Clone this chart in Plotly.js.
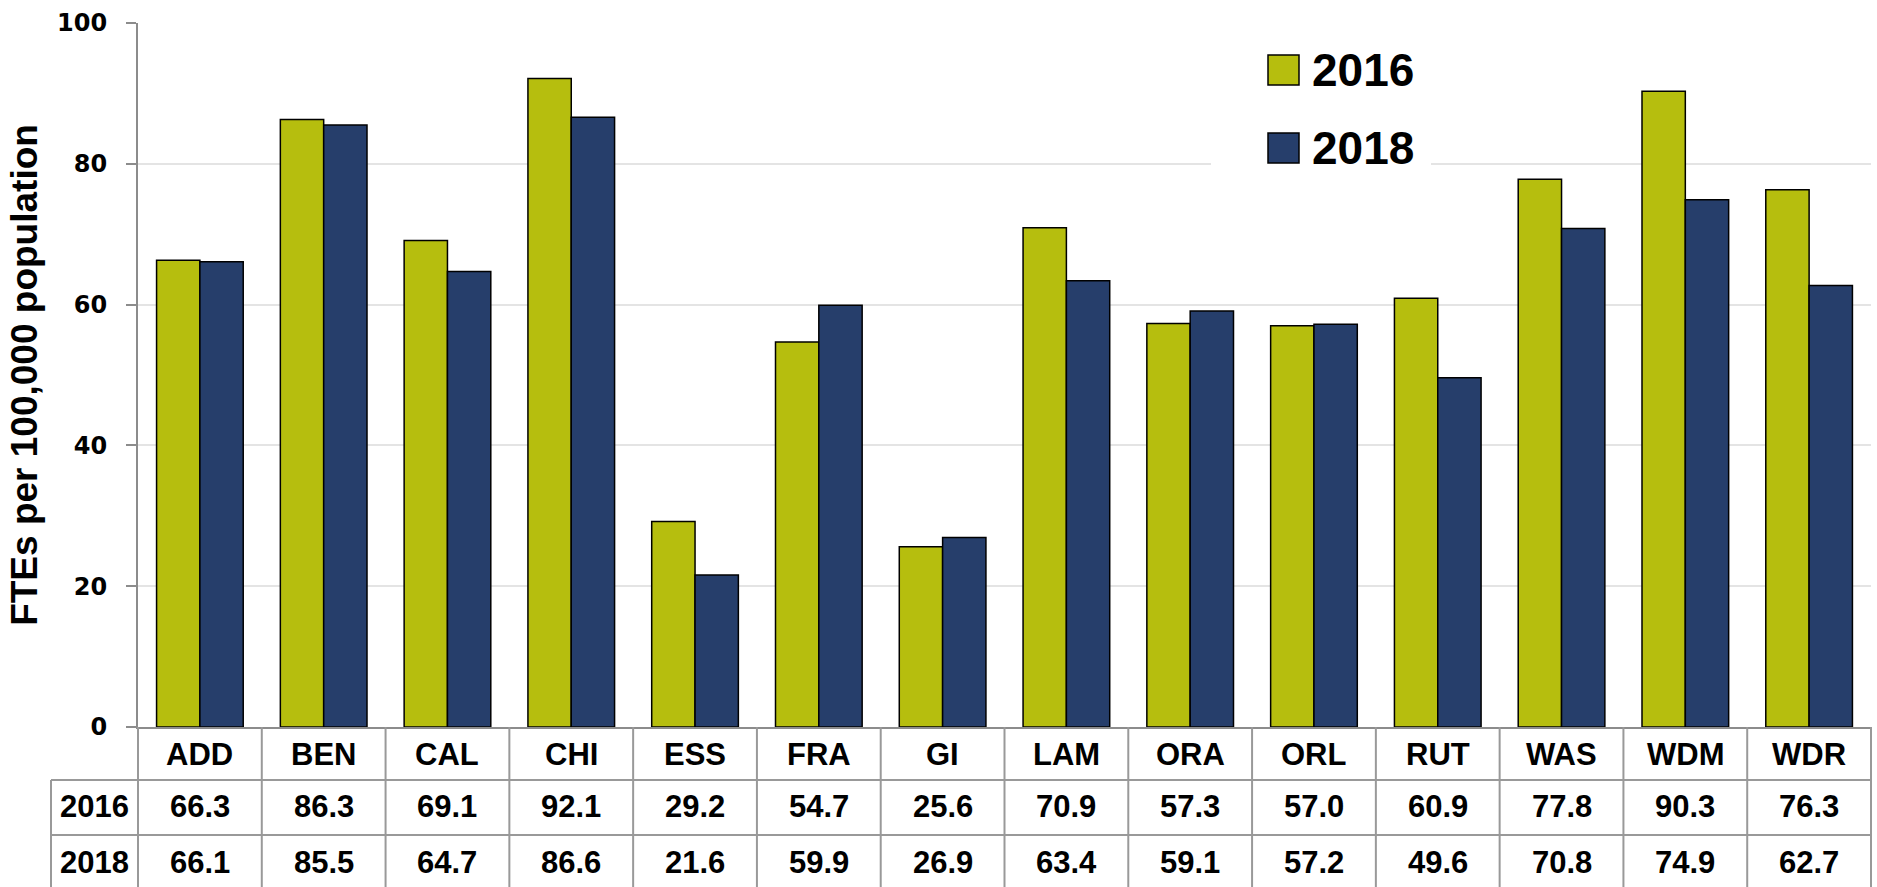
<!DOCTYPE html>
<html>
<head>
<meta charset="utf-8">
<script src="https://cdn.plot.ly/plotly-3.0.1.min.js"></script>
<style>
html,body{margin:0;padding:0;background:#fff;}
#chart{width:1877px;height:887px;}
</style>
</head>
<body>
<div id="chart"></div>
<script>
const categories = ['ADD','BEN','CAL','CHI','ESS','FRA','GI','LAM','ORA','ORL','RUT','WAS','WDM','WDR'];
const seriesNames = ['2016','2018'];
const values2016 = [66.3,86.3,69.1,92.1,29.2,54.7,25.6,70.9,57.3,57.0,60.9,77.8,90.3,76.3];
const values2018 = [66.1,85.5,64.7,86.6,21.6,59.9,26.9,63.4,59.1,57.2,49.6,70.8,74.9,62.7];
const yTicks = [0,20,40,60,80,100];
const yTitle = 'FTEs per 100,000 population';

const colors = ['#B6BE0E','#263E6B'];
const seriesValues = [values2016, values2018];

const W = 1877, H = 887;
const mL = 138, mR = 6, mT = 23, mB = 160;
const plotW = W - mL - mR, plotH = H - mT - mB;
const py = p => (H - mB - p) / plotH;      // pixel y -> paper y
const px = p => (p - mL) / plotW;          // pixel x -> paper x

const traces = seriesValues.map((vals, i) => ({
  type: 'bar',
  name: seriesNames[i],
  x: categories,
  y: vals,
  marker: {color: colors[i], line: {color: '#000000', width: 1.5}},
  showlegend: false,
  hoverinfo: 'x+y+name'
}));

const tableFont = {family: 'Liberation Sans, Arial, sans-serif', size: 31, color: '#000', weight: 'bold'};
const gridGray = '#999999';

const annotations = [];
const shapes = [];

// Category row
categories.forEach(c => {
  annotations.push({x: c, xref: 'x', y: py(754), yref: 'paper', text: c, showarrow: false,
    xanchor: 'center', yanchor: 'middle', font: tableFont});
});
// Value rows
const rowCenters = [807, 862];
seriesValues.forEach((vals, s) => {
  annotations.push({x: px(94), xref: 'paper', y: py(rowCenters[s]), yref: 'paper', text: seriesNames[s],
    showarrow: false, xanchor: 'center', yanchor: 'middle', font: tableFont});
  vals.forEach((v, i) => {
    annotations.push({x: categories[i], xref: 'x', y: py(rowCenters[s]), yref: 'paper', text: v.toFixed(1),
      showarrow: false, xanchor: 'center', yanchor: 'middle', font: tableFont});
  });
});

// Table lines
for (let i = 0; i <= categories.length; i++) {
  shapes.push({type: 'line', xref: 'paper', yref: 'paper', x0: i / categories.length, x1: i / categories.length,
    y0: 0, y1: py(H), line: {color: gridGray, width: 2}});
}
[780, 835].forEach(p => {
  shapes.push({type: 'line', xref: 'paper', yref: 'paper', x0: px(51), x1: 1, y0: py(p), y1: py(p),
    line: {color: gridGray, width: 2}});
});
shapes.push({type: 'line', xref: 'paper', yref: 'paper', x0: px(51), x1: px(51), y0: py(780), y1: py(H),
  line: {color: gridGray, width: 2}});

// Legend (manual, large swatches)
shapes.push({type: 'rect', xref: 'paper', yref: 'paper', x0: px(1211), x1: px(1431), y0: py(172), y1: py(38),
  fillcolor: '#ffffff', line: {width: 0}, layer: 'above'});
const legRows = [70, 148];
seriesNames.forEach((n, i) => {
  shapes.push({type: 'rect', xref: 'paper', yref: 'paper', x0: px(1268), x1: px(1299),
    y0: py(legRows[i] + 15), y1: py(legRows[i] - 15), fillcolor: colors[i],
    line: {color: '#000', width: 1.5}, layer: 'above'});
  annotations.push({x: px(1310), xref: 'paper', y: py(legRows[i]), yref: 'paper', text: n, showarrow: false,
    xanchor: 'left', yanchor: 'middle',
    font: {family: 'Liberation Sans, Arial, sans-serif', size: 46, color: '#000', weight: 'bold'}});
});

const layout = {
  width: W, height: H,
  margin: {l: mL, r: mR, t: mT, b: mB, pad: 0},
  paper_bgcolor: '#ffffff', plot_bgcolor: '#ffffff',
  barmode: 'group', bargap: 0.3, bargroupgap: 0,
  showlegend: false,
  xaxis: {
    type: 'category', categoryarray: categories,
    showticklabels: false, ticks: '', showgrid: false, zeroline: false,
    showline: true, linecolor: '#8C8C8C', linewidth: 2,
    range: [-0.5, categories.length - 0.5], fixedrange: true
  },
  yaxis: {
    range: [0, 100], tickvals: yTicks, ticktext: yTicks.map(String),
    ticks: 'outside', ticklen: 10, tickwidth: 2, tickcolor: '#8C8C8C',
    ticklabelstandoff: 14,
    showline: true, linecolor: '#8C8C8C', linewidth: 2,
    showgrid: true, gridcolor: '#E4E4E4', gridwidth: 2, zeroline: false,
    tickfont: {family: 'DejaVu Sans, Verdana, sans-serif', size: 24, color: '#000', weight: 'bold'},
    title: {text: yTitle, standoff: 8,
      font: {family: 'Liberation Sans, Arial, sans-serif', size: 37, color: '#000', weight: 'bold'}},
    automargin: false, fixedrange: true
  },
  annotations: annotations,
  shapes: shapes
};

Plotly.newPlot('chart', traces, layout, {displayModeBar: false, staticPlot: true});
</script>
</body>
</html>
